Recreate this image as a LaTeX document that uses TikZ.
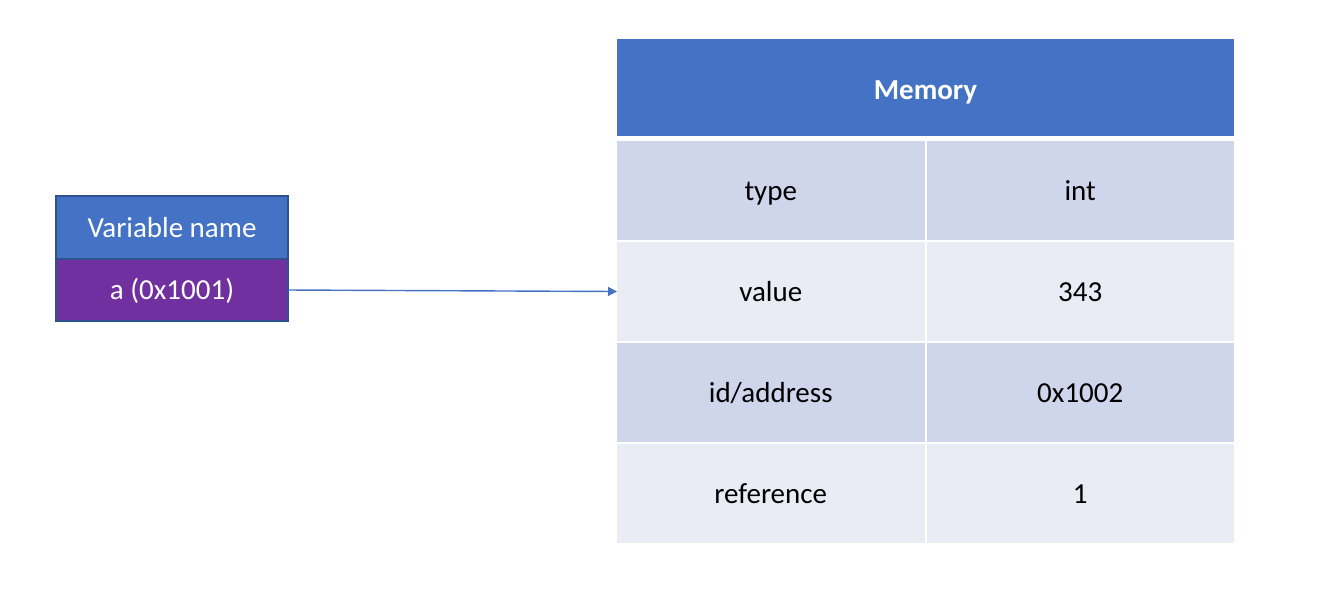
\documentclass[tikz,border=0pt]{standalone}
\usepackage{fontspec}
\setmainfont{Carlito}
\usepackage{xcolor}
\usetikzlibrary{arrows.meta,positioning}
\definecolor{hdrblue}{HTML}{4472C4}
\definecolor{varpurple}{HTML}{7030A0}
\definecolor{edgeblue}{HTML}{2F528F}
\definecolor{rowdark}{HTML}{CFD5EA}
\definecolor{rowlight}{HTML}{E9EBF5}
\tikzset{
  cell/.style={align=center, outer sep=0pt, inner sep=0pt, minimum width=6.15cm, minimum height=1.98cm, text height=1.2em, text depth=.1em, font=\fontsize{16.5}{19}\selectfont},
  darkcell/.style={cell, fill=rowdark},
  lightcell/.style={cell, fill=rowlight},
  varbox/.style={draw=edgeblue, line width=.6pt, align=center, outer sep=0pt, inner sep=0pt, minimum width=4.64cm, text height=1.2em, text depth=.1em, text=white, font=\fontsize{16.5}{19}\selectfont},
  line/.style={-{Triangle[length=1.8mm,width=1.8mm]}, draw=hdrblue, line width=.8pt}
}
\begin{document}
\begin{tikzpicture}[node distance=.04cm]
        \useasboundingbox (0,0) rectangle (26.36,-12);
        % memory table
        \node[cell, anchor=north west, fill=hdrblue, minimum width=12.34cm, minimum height=1.94cm, text height=1.45em, text=white, font=\fontsize{16.5}{19}\selectfont\bfseries] (mem) at (12.34,-.78) {Memory};
        \node[darkcell, below=.1cm of mem.south west, anchor=north west] (typek) {type};
        \node[darkcell, right=of typek] (typev) {int};
        \node[lightcell, below=of typek] (valk) {value};
        \node[lightcell, right=of valk] (valv) {343};
        \node[darkcell, below=of valk] (idk) {id/address};
        \node[darkcell, right=of idk] (idv) {0x1002};
        \node[lightcell, below=of idk] (refk) {reference};
        \node[lightcell, right=of refk] (refv) {1};

        % variable
        \node[varbox, fill=hdrblue, anchor=north west, minimum height=1.26cm] (varname) at (1.12,-3.92) {Variable name};
        \node[varbox, fill=varpurple, below=0cm of varname, minimum height=1.24cm] (var) {a (0x1001)};
        \draw[line] (var.east) -- (valk.west);
      \end{tikzpicture}
\end{document}
